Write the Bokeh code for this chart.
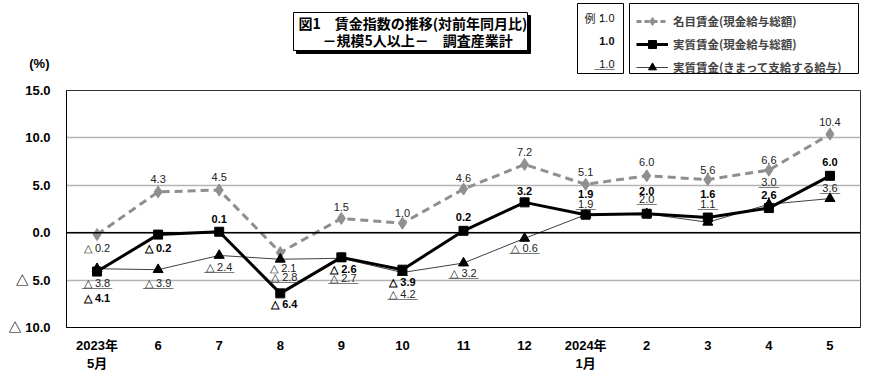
from bokeh.plotting import figure
from bokeh.layouts import column
from bokeh.models import FactorRange, Range1d, FixedTicker, Span, Legend, LegendItem
from bokeh.core.properties import value
from bokeh.embed import file_html
from bokeh.resources import INLINE

# ---------------- data ----------------
months = ["2023年\n5月", "6", "7", "8", "9", "10", "11", "12", "2024年\n1月", "2", "3", "4", "5"]
nominal = [-0.2, 4.3, 4.5, -2.1, 1.5, 1.0, 4.6, 7.2, 5.1, 6.0, 5.6, 6.6, 10.4]
real_total = [-4.1, -0.2, 0.1, -6.4, -2.6, -3.9, 0.2, 3.2, 1.9, 2.0, 1.6, 2.6, 6.0]
real_sched = [-3.8, -3.9, -2.4, -2.8, -2.7, -4.2, -3.2, -0.6, 1.9, 2.0, 1.1, 3.0, 3.6]
y_ticks = [-10, -5, 0, 5, 10, 15]
y_tick_labels = ["△ 10.0", "△ 5.0", "0.0", "5.0", "10.0", "15.0"]
series_names = ["名目賃金(現金給与総額)", "実質賃金(現金給与総額)", "実質賃金(きまって支給する給与)"]
title_lines = ["図1　賃金指数の推移(対前年同月比)", "－規模5人以上－　調査産業計"]
unit_text = "(%)"
example_texts = ["例：", "1.0"]

# label placement (screen px, + = down / right)
nom_dy = [13, -13, -13, 15, -11, -10, -11, -12, -12, -14, -10, -10, -12]
nom_dx = [0, 0, 0, 3, 0, 0, 0, 0, 0, 0, 0, 0, 0]
tot_dy = [26, 13, -13, 11, 12, 12, -14, -11, -21, -23, -24, -13, -14]
tot_dx = [0, 0, 0, 4, 2, 0, 0, 0, 0, 0, 0, 0, 0]
sch_dy = [14, 13, 12, 18, 20, 21, 10, 10, -11, -15, -18, -22, -11]
sch_dx = [0, 0, 0, 4, 2, 0, 0, 0, 0, 0, 0, 0, 0]


def fmt(v):
    return f"△ {abs(v):.1f}" if v < 0 else f"{v:.1f}"


def uline(v):
    return "_" * (6 if v < 0 else 4)


LAB = value("'Liberation Sans Narrow', 'Liberation Sans'")
JP = "'Noto Sans CJK JP'"
AX = "'Liberation Sans', 'Noto Sans CJK JP'"
GRAY = "#8f8f8f"

# ---------------- header (x/y in page pixels) ----------------
h = figure(width=890, height=82, x_range=Range1d(66, 860), y_range=Range1d(82, 0),
           x_axis_type=None, output_backend="svg", toolbar_location=None,
           min_border_left=66, min_border_right=30, min_border_top=0, min_border_bottom=0)
h.outline_line_color = None
h.grid.grid_line_color = None
h.yaxis.ticker = FixedTicker(ticks=[63])
h.yaxis.major_label_overrides = {63: unit_text}
h.yaxis.axis_line_color = None
h.yaxis.major_tick_line_color = None
h.yaxis.minor_tick_line_color = None
h.yaxis.major_label_standoff = 11
h.yaxis.major_label_text_font = AX
h.yaxis.major_label_text_font_style = "bold"
h.yaxis.major_label_text_font_size = "13px"
h.yaxis.major_label_text_color = "black"

# title box + shadow
h.quad(left=[296], right=[530], top=[15], bottom=[53], fill_color="black", line_color="black")
h.quad(left=[293], right=[527], top=[12], bottom=[50], fill_color="white", line_color="black", line_width=1)
h.text(x=[298, 322], y=[22, 39], text=title_lines, text_align="left", text_baseline="middle",
       text_font=value(JP), text_font_style="bold", text_font_size="14px", text_color="black")

# example box
h.quad(left=[577], right=[623], top=[3], bottom=[73], fill_color="white", line_color="black", line_width=1)
h.text(x=[584], y=[17], text=[example_texts[0]], text_align="left", text_baseline="middle",
       text_font=value(JP), text_font_size="11px", text_color="#222222")
h.text(x=[614, 614, 614], y=[17, 40, 63], text=[example_texts[1]] * 3, text_align="right",
       text_baseline="middle", text_font=LAB, text_font_size="11px",
       text_font_style=["normal", "bold", "normal"], text_color="#111111")
h.text(x=[614], y=[64], text=["____"], text_align="right", text_baseline="middle",
       text_font=LAB, text_font_size="9px", text_color="#333333")

# legend box
h.quad(left=[629], right=[858], top=[3], bottom=[73], fill_color="white", line_color="black", line_width=1)

# legend with sample renderers (their single point lies outside the header's view)
lg_nl = h.line(x=[0], y=[0], line_color=GRAY, line_width=3, line_dash="5 3")
lg_np = h.scatter(x=[0], y=[0], marker="diamond", fill_color=GRAY, line_color=GRAY)
lg_tl = h.line(x=[0], y=[0], line_color="black", line_width=3)
lg_tp = h.scatter(x=[0], y=[0], marker="square", fill_color="black", line_color="black")
lg_sl = h.line(x=[0], y=[0], line_color="#404040", line_width=1)
lg_sp = h.scatter(x=[0], y=[0], marker="triangle", fill_color="black", line_color="black")
legend = Legend(items=[
    LegendItem(label=series_names[0], renderers=[lg_nl, lg_np]),
    LegendItem(label=series_names[1], renderers=[lg_tl, lg_tp]),
    LegendItem(label=series_names[2], renderers=[lg_sl, lg_sp]),
], location=(570, 5))
legend.border_line_color = None
legend.background_fill_alpha = 0
legend.label_text_font = JP
legend.label_text_font_style = "bold"
legend.label_text_font_size = "11.5px"
legend.glyph_width = 32
legend.glyph_height = 20
legend.label_height = 15
legend.spacing = 3
legend.padding = 4
legend.margin = 0
legend.label_standoff = 5
h.add_layout(legend)

# ---------------- chart ----------------
p = figure(frame_width=794, frame_height=237,
           x_range=FactorRange(*months, range_padding=0),
           y_range=Range1d(-10, 15),
           output_backend="svg", toolbar_location=None,
           min_border_left=66, min_border_right=30, min_border_top=8, min_border_bottom=46)
p.outline_line_color = "#303030"
p.outline_line_width = 1
p.background_fill_color = "white"

p.xgrid.grid_line_color = None
p.ygrid.ticker = FixedTicker(ticks=y_ticks)
p.ygrid.grid_line_color = "#b4b4b4"
p.ygrid.grid_line_width = 1.3

p.yaxis.ticker = FixedTicker(ticks=y_ticks)
p.yaxis.major_label_overrides = {t: l for t, l in zip(y_ticks, y_tick_labels)}
for ax in (p.xaxis[0], p.yaxis[0]):
    ax.axis_line_color = "black"
    ax.axis_line_width = 1
    ax.major_tick_line_color = None
    ax.minor_tick_line_color = None
    ax.major_label_text_font = AX
    ax.major_label_text_font_style = "bold"
    ax.major_label_text_font_size = "13px"
    ax.major_label_text_color = "black"
p.yaxis.major_label_standoff = 10
p.xaxis.major_label_standoff = 4

p.add_layout(Span(location=0, dimension="width", line_color="black", line_width=1.6))

# lines
p.line(months, real_sched, line_color="#404040", line_width=1)
p.line(months, nominal, line_color=GRAY, line_width=3, line_dash="8 5")
p.line(months, real_total, line_color="black", line_width=3)
# markers
p.scatter(months, nominal, marker="diamond", size=12, fill_color=GRAY, line_color=GRAY)
p.scatter(months, real_sched, marker="triangle", size=10, fill_color="black", line_color="black")
p.scatter(months, real_total, marker="square", size=9, fill_color="black", line_color="black")

# data labels
p.text(months, nominal, text=[fmt(v) for v in nominal], x_offset=nom_dx, y_offset=nom_dy,
       text_align="center", text_baseline="middle", text_font=LAB, text_font_size="11px",
       text_color="#222222")
p.text(months, real_total, text=[fmt(v) for v in real_total], x_offset=tot_dx, y_offset=tot_dy,
       text_align="center", text_baseline="middle", text_font=LAB, text_font_size="11px",
       text_font_style="bold", text_color="black")
p.text(months, real_sched, text=[fmt(v) for v in real_sched], x_offset=sch_dx, y_offset=sch_dy,
       text_align="center", text_baseline="middle", text_font=LAB, text_font_size="11px",
       text_color="#222222")
p.text(months, real_sched, text=[uline(v) for v in real_sched], x_offset=sch_dx,
       y_offset=[d + 1 for d in sch_dy],
       text_align="center", text_baseline="middle", text_font=LAB, text_font_size="9px",
       text_color="#333333")

layout = column(h, p, spacing=0)
open("out.html", "w").write(file_html(layout, INLINE))
